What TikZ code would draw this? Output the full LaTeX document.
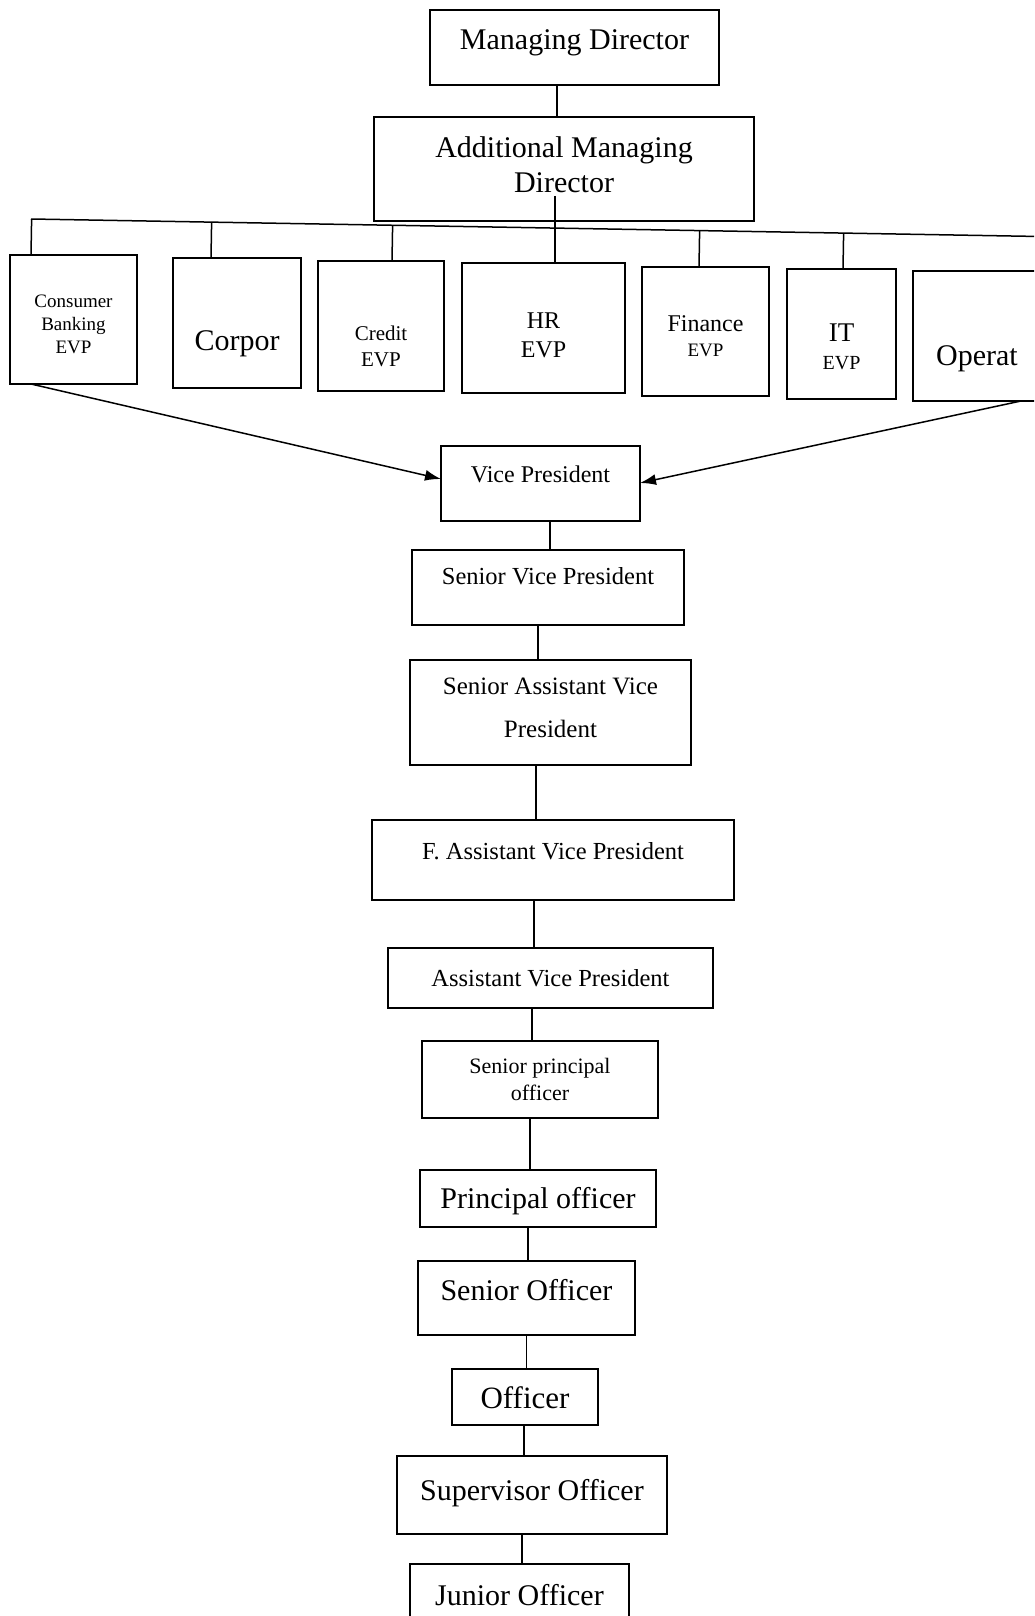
\documentclass[tikz,border=0pt]{standalone}
\usepackage{fontspec}
\setmainfont{Liberation Serif}
\usepackage{tikz}
\usetikzlibrary{arrows.meta,calc}
\newcommand{\boxtext}[1]{\begin{tabular}[t]{@{}c@{}}#1\end{tabular}}

\begin{document}
\begin{tikzpicture}[x=1pt,y=-1pt,>={Latex[length=16pt,width=11pt]},
                    rank/.style={draw,line width=2.2pt,inner sep=0pt,outer sep=0pt,anchor=north west},
                    link/.style={line width=1.5pt}]
  \clip (0,0) rectangle (1034,1616);

  \node[rank, minimum width=289pt, text height=40pt, text depth=35pt, font=\fontsize{30}{35}\selectfont] (md) at (430,10) {\boxtext{Managing Director}};
  \node[rank, minimum width=380pt, text height=41pt, text depth=63pt, font=\fontsize{30}{35}\selectfont] (amd) at (374,117) {\boxtext{Additional Managing\\Director}};

  \node[rank, minimum width=127pt, text height=52pt, text depth=77pt, font=\fontsize{19}{23}\selectfont] (cb) at (10,255) {\boxtext{Consumer\\Banking\\EVP}};
  \node[rank, minimum width=128pt, text height=92pt, text depth=38pt, font=\fontsize{30}{35}\selectfont] (corp) at (173,258) {\boxtext{Corpor}};
  \node[rank, minimum width=126pt, text height=79pt, text depth=51pt, font=\fontsize{21}{26}\selectfont] (cred) at (318,261) {\boxtext{Credit\\EVP}};
  \node[rank, minimum width=163pt, text height=65pt, text depth=65pt, font=\fontsize{24}{29}\selectfont] (hr) at (462,263) {\boxtext{HR\\EVP}};
  \node[rank, minimum width=127pt, text height=64pt, text depth=65pt, font=\fontsize{24}{25}\selectfont] (fin) at (642,267) {\boxtext{Finance\\{\fontsize{19}{25}\selectfont EVP}}};
  \node[rank, minimum width=109pt, text height=72pt, text depth=58pt, font=\fontsize{27}{28}\selectfont] (it) at (787,269) {\boxtext{IT\\{\fontsize{20}{28}\selectfont EVP}}};
  \node[rank, minimum width=128pt, text height=94pt, text depth=36pt, font=\fontsize{30}{35}\selectfont] (op) at (913,271) {\boxtext{Operat}};

  \node[rank, minimum width=199pt, text height=36pt, text depth=39pt, font=\fontsize{24}{29}\selectfont] (vp) at (441,446) {\boxtext{Vice President}};
  \node[rank, minimum width=272pt, text height=34pt, text depth=41pt, font=\fontsize{24.5}{29}\selectfont] (svp) at (412,550) {\boxtext{Senior Vice President}};
  \node[rank, minimum width=281pt, text height=34pt, text depth=71pt, font=\fontsize{25}{43}\selectfont] (savp) at (410,660) {\boxtext{Senior Assistant Vice\\President}};
  \node[rank, minimum width=362pt, text height=39pt, text depth=41pt, font=\fontsize{24.5}{29}\selectfont] (favp) at (372,820) {\boxtext{F. Assistant Vice President}};
  \node[rank, minimum width=325pt, text height=38pt, text depth=22pt, font=\fontsize{24.5}{29}\selectfont] (avp) at (388,948) {\boxtext{Assistant Vice President}};
  \node[rank, minimum width=236pt, text height=32pt, text depth=45pt, font=\fontsize{22}{27}\selectfont] (spo) at (422,1041) {\boxtext{Senior principal\\officer}};
  \node[rank, minimum width=236pt, text height=38pt, text depth=19pt, font=\fontsize{30}{35}\selectfont] (po) at (420,1170) {\boxtext{Principal officer}};
  \node[rank, minimum width=217pt, text height=39pt, text depth=35pt, font=\fontsize{30}{35}\selectfont] (so) at (418,1261) {\boxtext{Senior Officer}};
  \node[rank, minimum width=146pt, text height=39pt, text depth=17pt, font=\fontsize{31}{36}\selectfont] (off) at (452,1369) {\boxtext{Officer}};
  \node[rank, minimum width=270pt, text height=44pt, text depth=34pt, font=\fontsize{30}{35}\selectfont] (sup) at (397,1456) {\boxtext{Supervisor Officer}};
  \node[rank, minimum width=219pt, text height=41pt, text depth=45pt, font=\fontsize{30}{35}\selectfont] (jun) at (410,1564) {\boxtext{Junior Officer}};

  \coordinate (barl) at (31,219);
  \coordinate (barr) at (1040,236.5);
  \draw[link] (barl) -- (barr);
  \foreach \n/\dx in {cb/-42.5, corp/-26, cred/11, fin/-6.5, it/1.5} {
    \coordinate (top) at ($(\n.north)+(\dx,0)$);
    \draw[link] ($(barl)!(top)!(barr)$) -- (top);
  }
  \draw[link] ($(amd.center)+(-9,27)$) -- ($(hr.north)+(11.5,0)$);

  \foreach \a/\b/\dx in {md/amd/-17.5, vp/svp/9.5, svp/savp/-10, savp/favp/-14.5, favp/avp/-19,
                         avp/spo/-18.5, spo/po/-10, po/so/-10, so/off/0, off/sup/-1, sup/jun/-10}
    \draw[link] ($(\a.south)+(\dx,0)$) -- ($(\a.south |- \b.north)+(\dx,0)$);

  \draw[link,->] ($(cb.south west)+(21,0)$) -- ($(vp.north west)+(0,33)$);
  \draw[link,->] ($(op.south west)+(108,0)$) -- ($(vp.north east)+(0,37)$);
\end{tikzpicture}
\end{document}
